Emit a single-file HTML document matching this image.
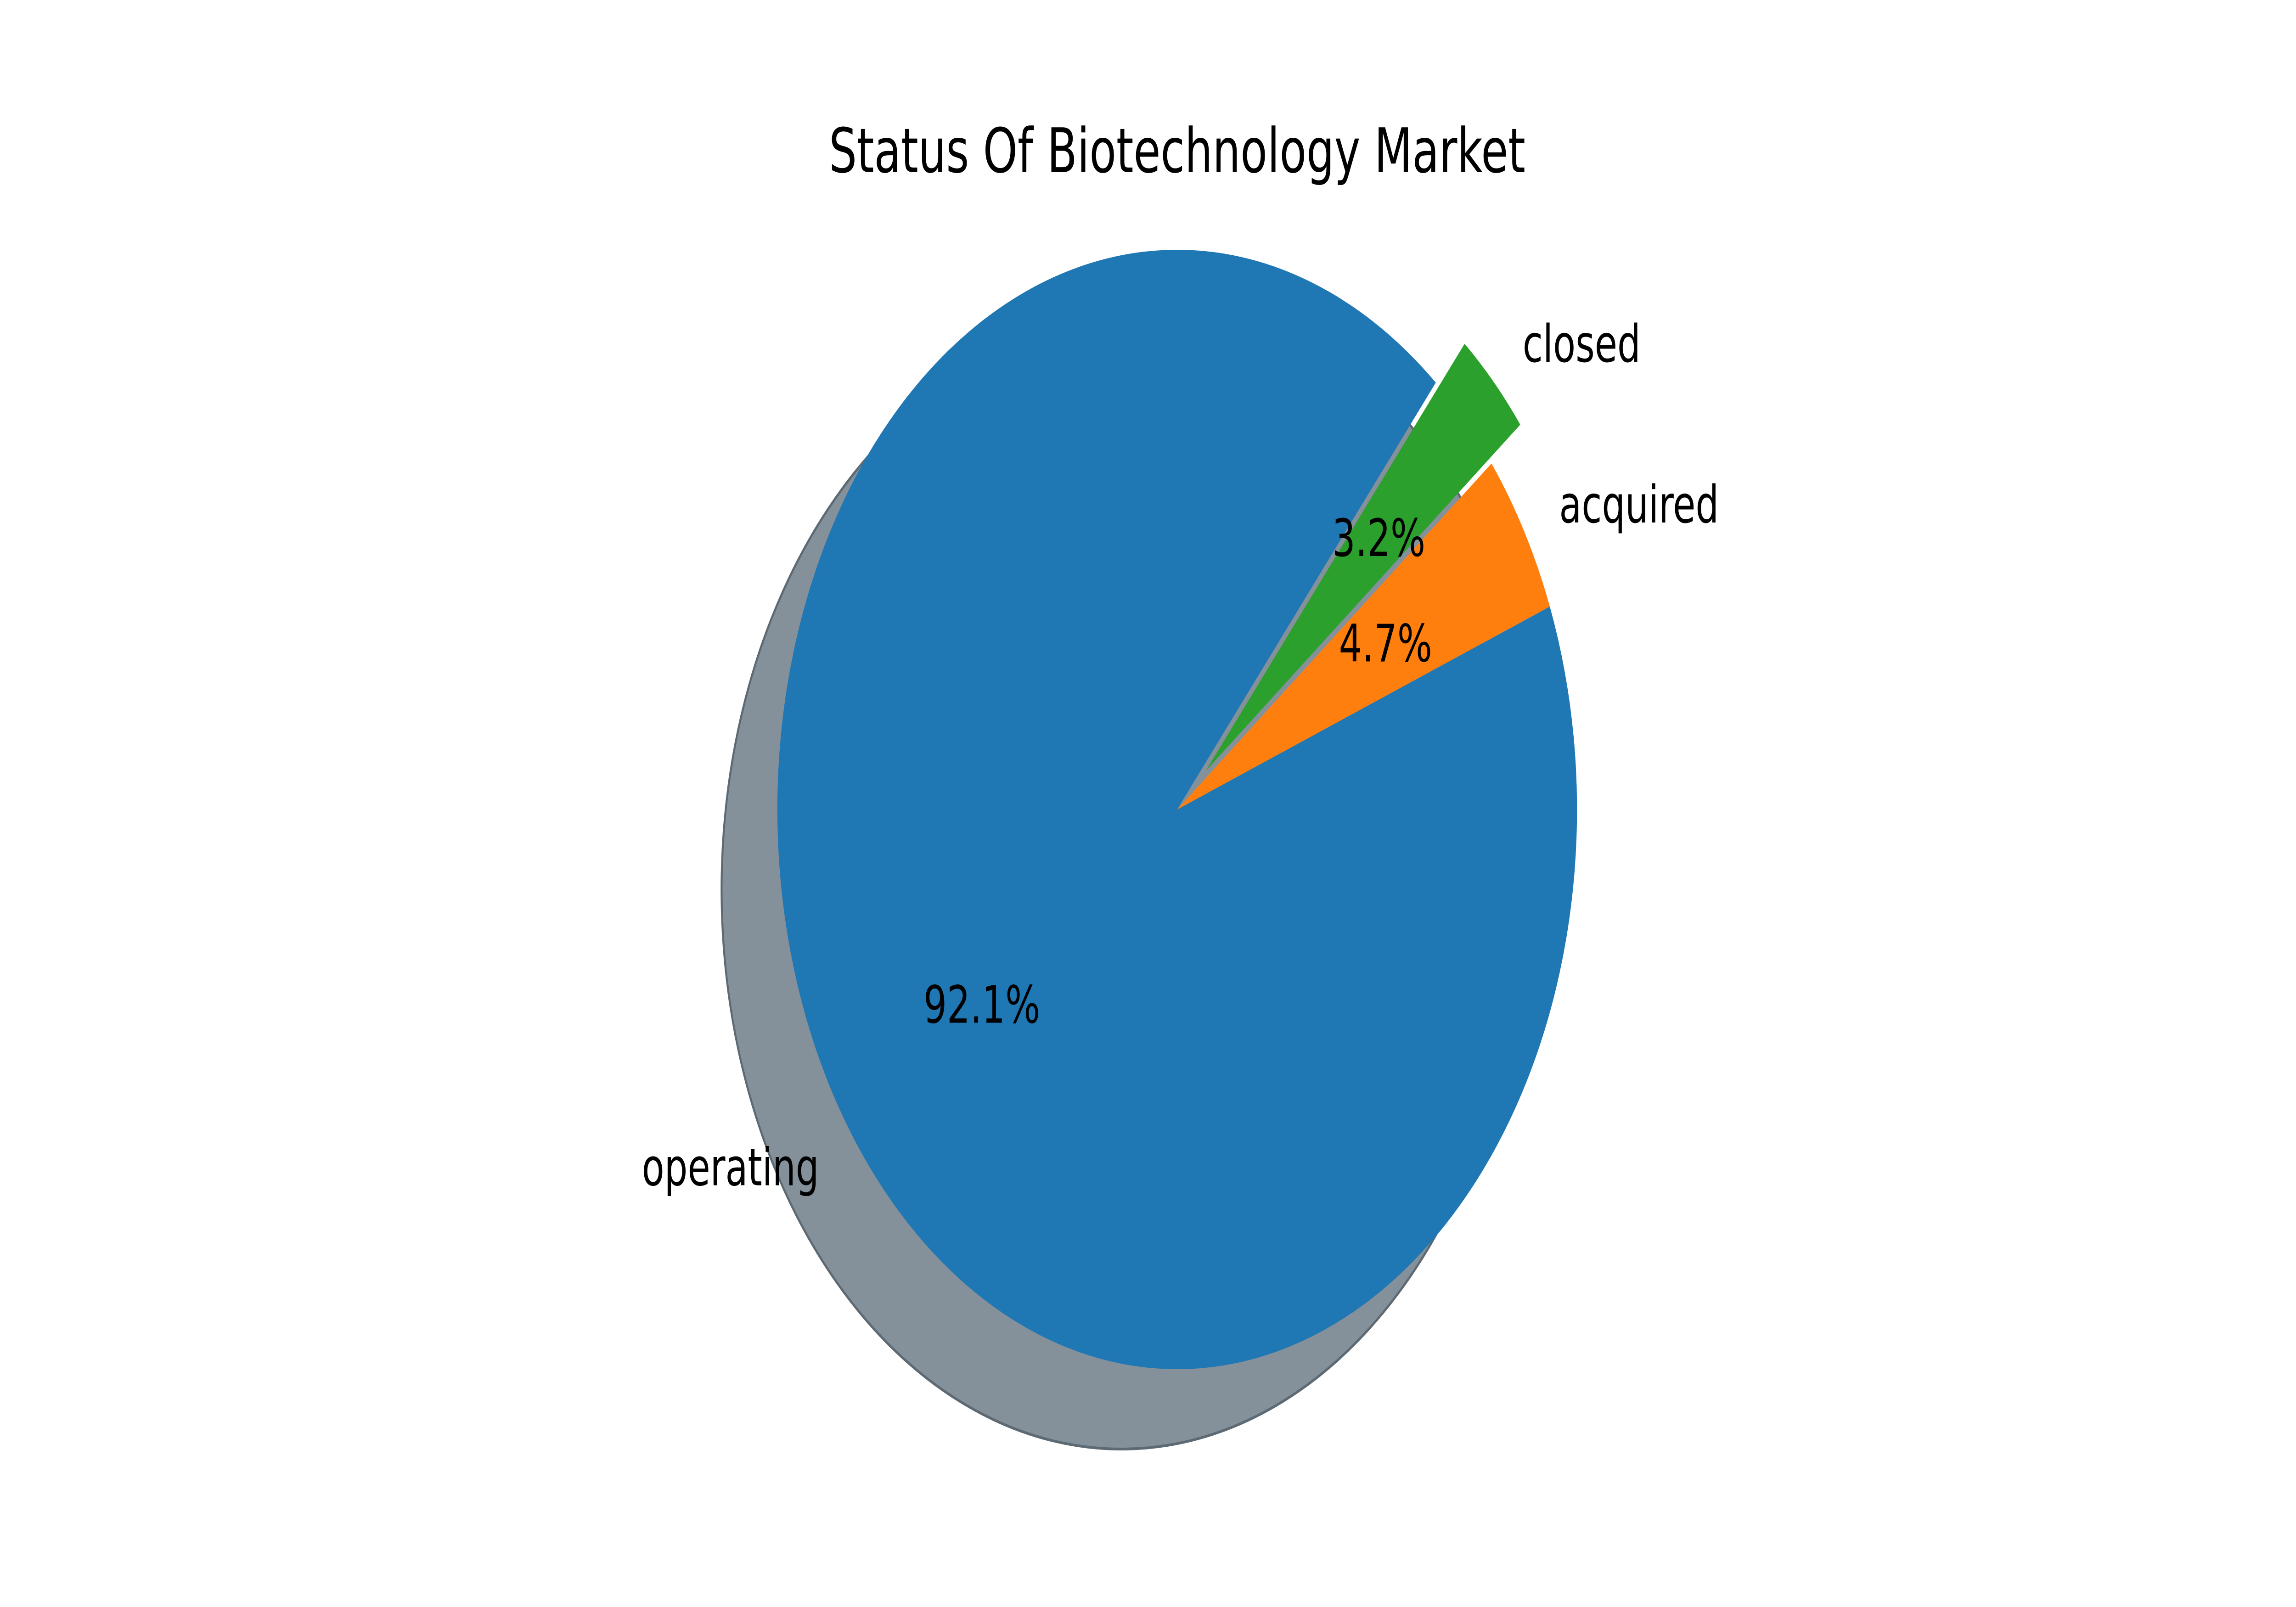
<!DOCTYPE html>
<html><head><meta charset="utf-8"><style>
html,body{margin:0;padding:0;background:#fff;width:100%;height:100%;overflow:hidden;}
svg{display:block;width:100vw;height:100vh;font-family:"DejaVu Sans","Liberation Sans",sans-serif;}
</style></head><body>
<svg id="chart" viewBox="0 0 7000 3500" preserveAspectRatio="none">
<rect width="7000" height="3500" fill="#fff"/>
<text x="3589" y="375" font-size="134" text-anchor="middle" fill="#000">Status Of Biotechnology Market</text>
<g id="shadows"></g><g id="wedges"></g><g id="labels"></g>
</svg>
<script>
const categories = ["operating", "acquired", "closed"];
const values = [92.1, 4.7, 3.2];
const pctLabels = ["92.1%", "4.7%", "3.2%"];
const explode = [0, 0, 0.1];
const colors = ["#1f77b4", "#ff7f0e", "#2ca02c"];
const startAngle = 49.7;

const cx = 3589, cy = 1763, R = 1219, sdx = -170, sdy = 174;
const NS = "http://www.w3.org/2000/svg";
const total = values.reduce((a, b) => a + b, 0);
const sh = document.getElementById("shadows");
const wg = document.getElementById("wedges");
const lg = document.getElementById("labels");
function pt(x, y, a, r) { const t = a * Math.PI / 180; return [x + r * Math.cos(t), y - r * Math.sin(t)]; }
function wedgePath(x, y, a0, a1) {
  const p0 = pt(x, y, a0, R), p1 = pt(x, y, a1, R);
  const large = (a1 - a0) > 180 ? 1 : 0;
  return `M${x},${y} L${p0[0]},${p0[1]} A${R},${R} 0 ${large} 0 ${p1[0]},${p1[1]} Z`;
}
let a = startAngle;
const geo = [];
values.forEach((v, i) => {
  const span = v / total * 360, a0 = a, a1 = a + span, mid = (a0 + a1) / 2;
  const [ox, oy] = pt(cx, cy, mid, explode[i] * R);
  geo.push({ a0, a1, mid, ox, oy });
  a = a1;
});
geo.forEach((g, i) => {
  const s = document.createElementNS(NS, "path");
  s.setAttribute("d", wedgePath(g.ox + sdx, g.oy + sdy, g.a0, g.a1));
  s.setAttribute("fill", "#84909a");
  s.setAttribute("stroke", "#5d6a73");
  s.setAttribute("stroke-width", "6");
  
  
  sh.appendChild(s);
});
geo.forEach((g, i) => {
  const p = document.createElementNS(NS, "path");
  p.setAttribute("d", wedgePath(g.ox, g.oy, g.a0, g.a1));
  p.setAttribute("fill", colors[i]);
  
  
  wg.appendChild(p);
  const [px, py] = pt(g.ox, g.oy, g.mid, 0.6 * R);
  const t = document.createElementNS(NS, "text");
  t.setAttribute("x", px); t.setAttribute("y", py + 40);
  t.setAttribute("font-size", "112"); t.setAttribute("text-anchor", "middle");
  t.textContent = pctLabels[i];
  
  
  lg.appendChild(t);
  const [lx, ly] = pt(g.ox, g.oy, g.mid, 1.1 * R);
  const l = document.createElementNS(NS, "text");
  l.setAttribute("x", lx); l.setAttribute("y", ly + 40);
  l.setAttribute("font-size", "112");
  l.setAttribute("text-anchor", Math.cos(g.mid * Math.PI / 180) < 0 ? "end" : "start");
  l.textContent = categories[i];
  
  
  lg.appendChild(l);
});
</script>
</body></html>
